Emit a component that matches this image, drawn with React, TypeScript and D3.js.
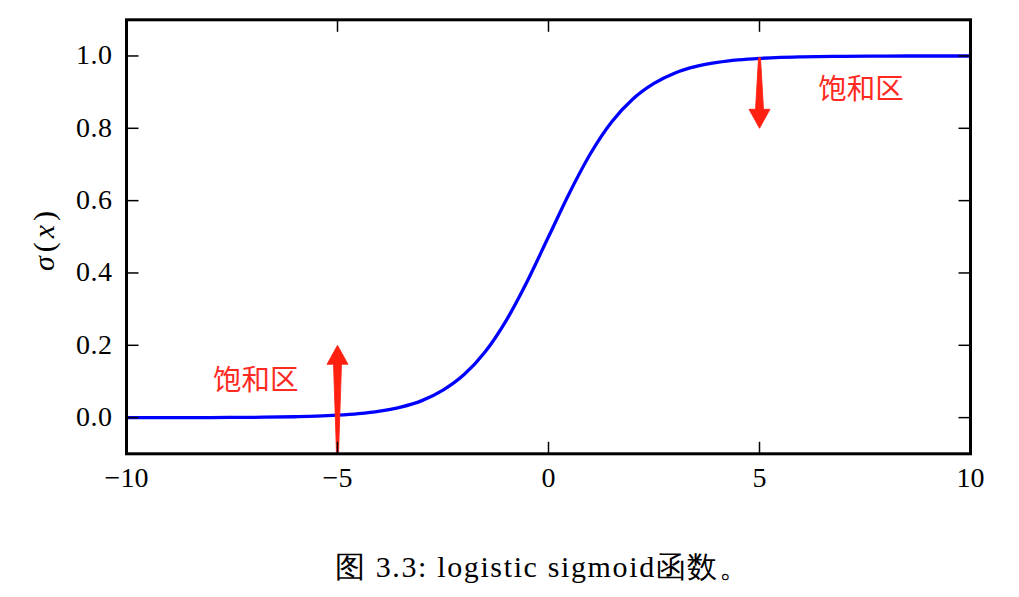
import React from "react";
import * as d3 from "d3";

const xValues = [-10, -9, -8, -7, -6, -5.5, -5, -4.5, -4, -3.5, -3, -2.5, -2, -1.5, -1, -0.5, 0, 0.5, 1, 1.5, 2, 2.5, 3, 3.5, 4, 4.5, 5, 5.5, 6, 7, 8, 9, 10];
const sigmaValues = [0.00005, 0.0001, 0.0003, 0.0009, 0.0025, 0.004, 0.0067, 0.011, 0.018, 0.029, 0.047, 0.076, 0.119, 0.182, 0.269, 0.378, 0.5, 0.622, 0.731, 0.818, 0.881, 0.924, 0.953, 0.971, 0.982, 0.989, 0.9933, 0.996, 0.9975, 0.9991, 0.9997, 0.9999, 0.99995];
const xTicks = [-10, -5, 0, 5, 10];
const yTicks = [0.0, 0.2, 0.4, 0.6, 0.8, 1.0];
const arrows = [
  { x: -5, from: -0.1, to: 0.2 },
  { x: 5, from: 0.995, to: 0.8 },
];
const labels = [
  { x: -7.95, y: 0.11, text: "饱和区" },
  { x: 6.39, y: 0.915, text: "饱和区" },
];
const caption = "图 3.3: logistic sigmoid函数。";

export default function App() {
  const W = 1019, H = 597;
  const L = 126.5, R = 970.5, T = 19.8, B = 453.8;
  const x = d3.scaleLinear().domain([-10, 10]).range([L, R]);
  const y = d3.scaleLinear().domain([-0.1, 1.1]).range([B, T]);
  const pts: [number, number][] = xValues.map((v, i) => [v, sigmaValues[i]]);
  const line = d3.line<[number, number]>().x(d => x(d[0])).y(d => y(d[1])).curve(d3.curveMonotoneX);
  const serif = "'Liberation Serif', 'DejaVu Serif', serif";
  const cjk = "'Noto Sans CJK SC', sans-serif";
  const tickLen = 12;
  const fmtY = d3.format(".1f");
  const fmtX = (v: number) => (v < 0 ? "\u2212" + Math.abs(v) : String(v));

  const arrowPath = (a: { x: number; from: number; to: number }) => {
    const cx = x(a.x);
    const y0 = y(a.from);
    const y1 = y(a.to);
    const dir = y1 < y0 ? -1 : 1;
    const headLen = 19;
    const hb = y1 - dir * headLen;
    return `M${cx - 1},${y0} L${cx - 4},${hb} L${cx - 10.5},${hb} L${cx},${y1} L${cx + 10.5},${hb} L${cx + 4},${hb} L${cx + 1},${y0} Z`;
  };

  return (
    <svg width={W} height={H} style={{ position: "absolute", left: 0, top: 0, background: "#fff" }}>
      <path d={line(pts) || ""} fill="none" stroke="#0000ff" strokeWidth={3.3} />
      {arrows.map((a, i) => (
        <path key={i} d={arrowPath(a)} fill="#ff2010" stroke="#ff2010" strokeWidth={0.8} />
      ))}
      {labels.map((l, i) => (
        <text key={i} x={x(l.x)} y={y(l.y)} fontFamily={cjk} fontSize={28.5} fill="#ff2a1f" dominantBaseline="central">
          {l.text}
        </text>
      ))}
      {yTicks.map(t => (
        <g key={"y" + t}>
          <line x1={L} x2={L + tickLen} y1={y(t)} y2={y(t)} stroke="#000" strokeWidth={1.5} />
          <line x1={R} x2={R - tickLen} y1={y(t)} y2={y(t)} stroke="#000" strokeWidth={1.5} />
          <text x={L - 14.5} y={y(t) + 8.5} textAnchor="end" fontFamily={serif} fontSize={28} textLength={36} lengthAdjust="spacing">
            {fmtY(t)}
          </text>
        </g>
      ))}
      {xTicks.map(t => (
        <g key={"x" + t}>
          <line x1={x(t)} x2={x(t)} y1={B} y2={B - tickLen} stroke="#000" strokeWidth={1.5} />
          <line x1={x(t)} x2={x(t)} y1={T} y2={T + tickLen} stroke="#000" strokeWidth={1.5} />
          <text x={x(t)} y={487} textAnchor="middle" fontFamily={serif} fontSize={28}>
            {fmtX(t)}
          </text>
        </g>
      ))}
      <rect x={L} y={T} width={R - L} height={B - T} fill="none" stroke="#000" strokeWidth={3} />
      <text transform={`translate(43,241) rotate(-90)`} textAnchor="middle" dominantBaseline="central" fontFamily={serif} fontSize={30} textLength={60} lengthAdjust="spacing">
        <tspan fontStyle="italic">σ</tspan>
        <tspan>(</tspan>
        <tspan fontStyle="italic">x</tspan>
        <tspan>)</tspan>
      </text>
      <text x={335} y={577} fontFamily={serif} fontSize={30} textLength={414} lengthAdjust="spacing">
        {caption}
      </text>
    </svg>
  );
}
